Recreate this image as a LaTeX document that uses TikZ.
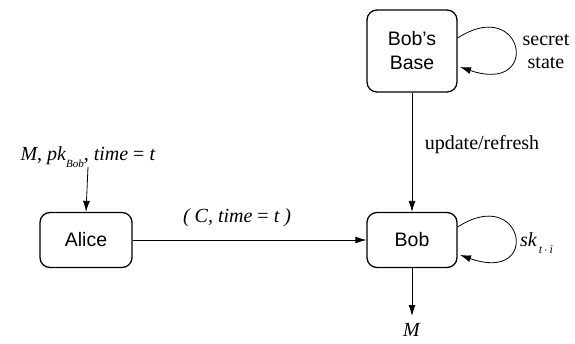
\documentclass[tikz,border=0pt]{standalone}
\usepackage{fontspec}
\setmainfont{Liberation Serif}
\newfontfamily\boxfont{Liberation Sans}
\usetikzlibrary{arrows.meta}
\begin{document}
\begin{tikzpicture}[x=1pt,y=1pt,
  party/.style={draw,line width=1.3pt,rounded corners=10pt,minimum width=90pt,font=\boxfont\fontsize{19.5}{24}\selectfont,align=center,inner sep=0pt},
  lbl/.style={font=\fontsize{20}{23}\selectfont,align=center,inner sep=0pt},
  arr/.style={line width=0.8pt,-{Latex[length=11pt,width=7pt]}}]
\useasboundingbox (0,0) rectangle (575,343);
\node[party,minimum height=82pt] (base) at (412,292) {Bob’s\\Base};
\node[party,minimum height=55pt] (bob) at (412,103) {Bob};
\node[party,minimum height=55pt,minimum width=92pt] (alice) at (86,103) {Alice};
\coordinate (in) at (88,176);
\coordinate (out) at (412,27);
\node[lbl] (inl) at (88,186) {\textit{M, pk\raisebox{-0.35em}{\fontsize{11}{11}\selectfont Bob}, time} = \textit{t}};
\node[lbl] (ml) at (412,13) {\textit{M}};
\node[lbl] (cl) at (237,125) {\textit{( C, time} = \textit{t )}};
\node[lbl] (ul) at (482,198) {update/refresh};
\node[lbl] (sl) at (546,292) {secret\\state};
\node[lbl,anchor=west] (kl) at (520,100) {\textit{sk\raisebox{-0.35em}{\fontsize{12}{12}\selectfont\,t\,$\cdot$\,i}}};
\draw[arr] (in) -- (alice.north);
\draw[arr] (alice.east) -- (bob.west);
\draw[arr] (base.south) -- (bob.north);
\draw[arr] (bob.south) -- (out);
\draw[arr] (base.east |- 0,305) .. controls (524,348) and (542,248) .. (460,276);
\draw[arr] (bob.east |- 0,116) .. controls (524,159) and (542,59) .. (460,88);
\end{tikzpicture}
\end{document}
